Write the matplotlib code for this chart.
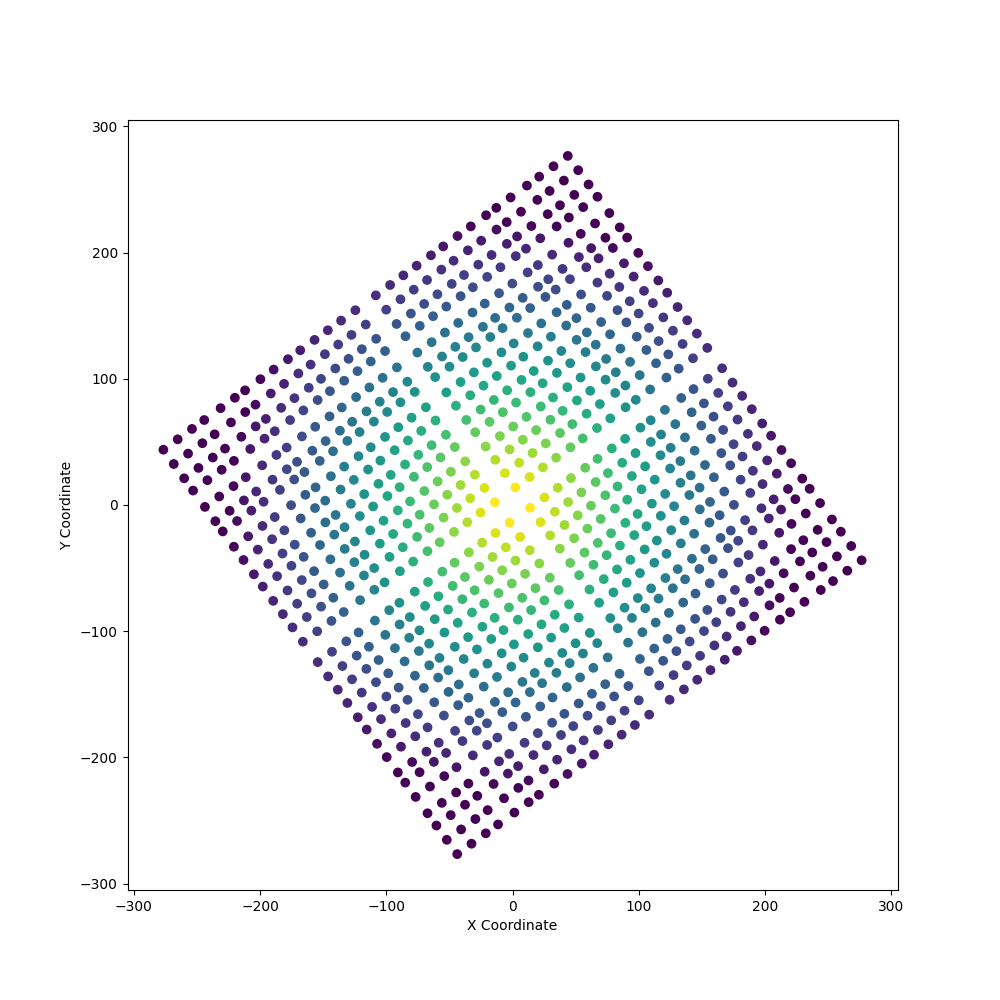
import numpy as np
import matplotlib
matplotlib.use("Agg")
import matplotlib.pyplot as plt

# 1D lattice coordinates along each side of the square (half-side ~198)
side_coords = [-198, -184, -170, -158, -142, -128, -118, -103, -90, -76, -64,
               -50, -37, -24, -10,
               10, 24, 37, 50, 64, 76, 90, 103, 118, 128, 142, 158, 170, 184, 198]
rotation_deg = 36.0

u, v = np.meshgrid(side_coords, side_coords)
u = u.ravel(); v = v.ravel()
th = np.deg2rad(rotation_deg)
x = u * np.cos(th) - v * np.sin(th)
y = u * np.sin(th) + v * np.cos(th)
c = -np.hypot(u, v)

fig, ax = plt.subplots(figsize=(10, 10), dpi=100)
ax.scatter(x, y, c=c, cmap="viridis", s=36, vmin=-225, vmax=-14)
ax.set_xlabel("X Coordinate")
ax.set_ylabel("Y Coordinate")
ax.set_xlim(-305, 305)
ax.set_ylim(-305, 305)
ax.set_aspect("equal")
fig.savefig("out.png")
